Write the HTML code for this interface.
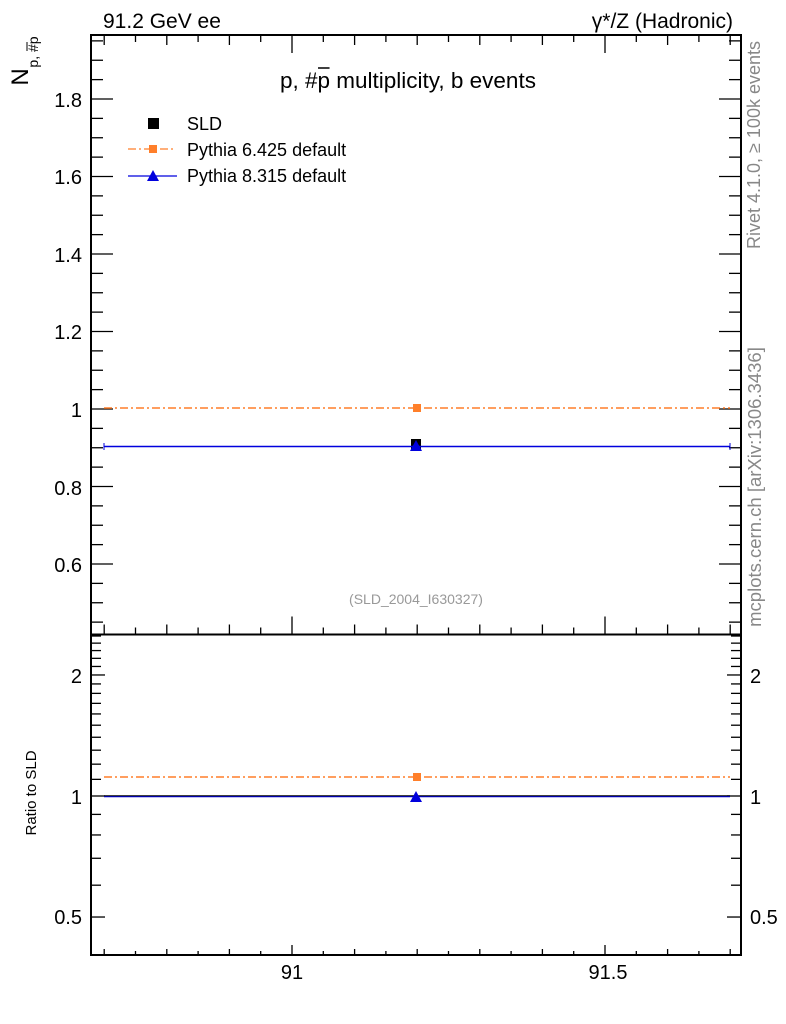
<!DOCTYPE html>
<html><head><meta charset="utf-8"><style>
html,body{margin:0;padding:0;background:#fff;}
svg{display:block;font-family:"Liberation Sans",Arial,sans-serif;}
</style></head><body>
<svg id="s" width="786" height="1024" viewBox="0 0 786 1024" xmlns="http://www.w3.org/2000/svg">
<rect width="786" height="1024" fill="#fff"/>
<g id="ticks" stroke="#000" stroke-width="1.3"></g>
<rect x="91" y="35" width="650" height="599.5" fill="none" stroke="#000" stroke-width="2"/>
<rect x="91" y="634.5" width="650" height="320.5" fill="none" stroke="#000" stroke-width="2"/>
<text x="103" y="28" font-size="21">91.2 GeV ee</text>
<text x="733" y="28" font-size="21" text-anchor="end">γ*/Z (Hadronic)</text>
<text id="title" x="280" y="88" font-size="22.5">p, #p multiplicity, b events</text>
<line id="ol" x1="327" y1="68" x2="339" y2="68" stroke="#000" stroke-width="1.5"/>
<text x="28" y="77" font-size="24" text-anchor="middle" transform="rotate(-90 28 77)">N</text>
<text x="38" y="52" font-size="14" text-anchor="middle" transform="rotate(-90 38 52)">p, #p</text>
<line x1="27" y1="42" x2="27" y2="51" stroke="#000" stroke-width="1"/>
<g font-size="20" text-anchor="end">
<text x="82" y="107">1.8</text><text x="82" y="184">1.6</text><text x="82" y="262">1.4</text>
<text x="82" y="339">1.2</text><text x="82" y="417">1</text><text x="82" y="495">0.8</text><text x="82" y="572">0.6</text>
<text x="82" y="683">2</text><text x="82" y="804">1</text><text x="82" y="924">0.5</text>
</g>
<g font-size="20" text-anchor="start">
<text x="750" y="683">2</text><text x="750" y="804">1</text><text x="750" y="924">0.5</text>
</g>
<g font-size="20" text-anchor="middle"><text x="292" y="979">91</text><text x="608" y="979">91.5</text></g>
<text x="36" y="793" font-size="15" text-anchor="middle" transform="rotate(-90 36 793)">Ratio to SLD</text>
<text x="760" y="145" font-size="18" fill="#888" text-anchor="middle" transform="rotate(-90 760 145)">Rivet 4.1.0, ≥ 100k events</text>
<text x="761" y="487" font-size="18.5" fill="#888" text-anchor="middle" transform="rotate(-90 761 487)">mcplots.cern.ch [arXiv:1306.3436]</text>
<text x="416" y="604" font-size="14" fill="#999" text-anchor="middle">(SLD_2004_I630327)</text>
<!-- legend -->
<rect x="148" y="118" width="11" height="11" fill="#000"/>
<text x="187" y="130" font-size="18">SLD</text>
<line x1="128" y1="149" x2="175" y2="149" stroke="#ff7f2a" stroke-width="1.3" stroke-dasharray="8,3,2,3"/>
<rect x="149" y="145" width="8" height="8" fill="#ff7f2a"/>
<text x="187" y="156" font-size="18">Pythia 6.425 default</text>
<line x1="128" y1="176" x2="177" y2="176" stroke="#0000dd" stroke-width="1.3"/>
<polygon points="153,170 159,181 147,181" fill="#0000dd"/>
<text x="187" y="182" font-size="18">Pythia 8.315 default</text>
<!-- main data -->
<line x1="104" y1="408" x2="730" y2="408" stroke="#ff7f2a" stroke-width="1.5" stroke-dasharray="8,3,2,3"/>
<rect x="413" y="404" width="8" height="8" fill="#ff7f2a"/>
<rect x="411" y="439" width="10" height="11" fill="#000"/>
<line x1="104" y1="446.5" x2="730" y2="446.5" stroke="#0000dd" stroke-width="1.5"/>
<line x1="104" y1="443" x2="104" y2="450" stroke="#0000dd"/><line x1="730" y1="443" x2="730" y2="450" stroke="#0000dd"/>
<polygon points="416,440 422,451 410,451" fill="#0000dd"/>
<!-- ratio -->
<line x1="104" y1="777" x2="730" y2="777" stroke="#ff7f2a" stroke-width="1.5" stroke-dasharray="8,3,2,3"/>
<rect x="413" y="773" width="8" height="8" fill="#ff7f2a"/>
<line x1="104" y1="796" x2="730" y2="796" stroke="#000" stroke-width="1.5"/>
<line x1="104" y1="796.8" x2="730" y2="796.8" stroke="#0000dd" stroke-width="1"/>
<polygon points="416,791 422,802 410,802" fill="#0000dd"/>
</svg>
<script>
var g=document.getElementById('ticks'),ns='http://www.w3.org/2000/svg';
function L(x1,y1,x2,y2){var l=document.createElementNS(ns,'line');l.setAttribute('x1',x1);l.setAttribute('y1',y1);l.setAttribute('x2',x2);l.setAttribute('y2',y2);g.appendChild(l);}
for(var i=-6;i<=14;i++){var v=91+i*0.05,x=292+(v-91)*626;if(x<92||x>740)continue;
 var m=(i%10==0)?18:(i%2==0?10:7), r=(i%10==0)?10:(i%2==0?6:4);
 L(x,634.5,x,634.5-m);L(x,35,x,35+m);L(x,955,x,955-r);}
for(var k=0;k<40;k++){var v=0.4+k*0.05,y=409-(v-1)*387.5;if(y<36||y>633)continue;
 var len=(Math.round(v*100)%20==0)?22:12;L(91,y,91+len,y);L(741,y,741-len,y);}
var vals=[];for(var v=0.45;v<2.6;v+=(v<0.99?0.05:0.1))vals.push(Math.round(v*100)/100);
vals.forEach(function(v){var y=796-Math.log(v)*174.6;if(y<636||y>954)return;
 if(v<0.99&&Math.round(v*100)%10!=0)return;
 var len=(v==0.5||v==1||v==2)?14:10;
 L(91,y,91+len,y);L(741,y,741-len,y);});
try{var t=document.getElementById('title'),ol=document.getElementById('ol');
 var a=t.getStartPositionOfChar(4).x,b=t.getEndPositionOfChar(4).x;
 ol.setAttribute('x1',a+0.5);ol.setAttribute('x2',b-0.5);}catch(e){}
</script>
</body></html>
